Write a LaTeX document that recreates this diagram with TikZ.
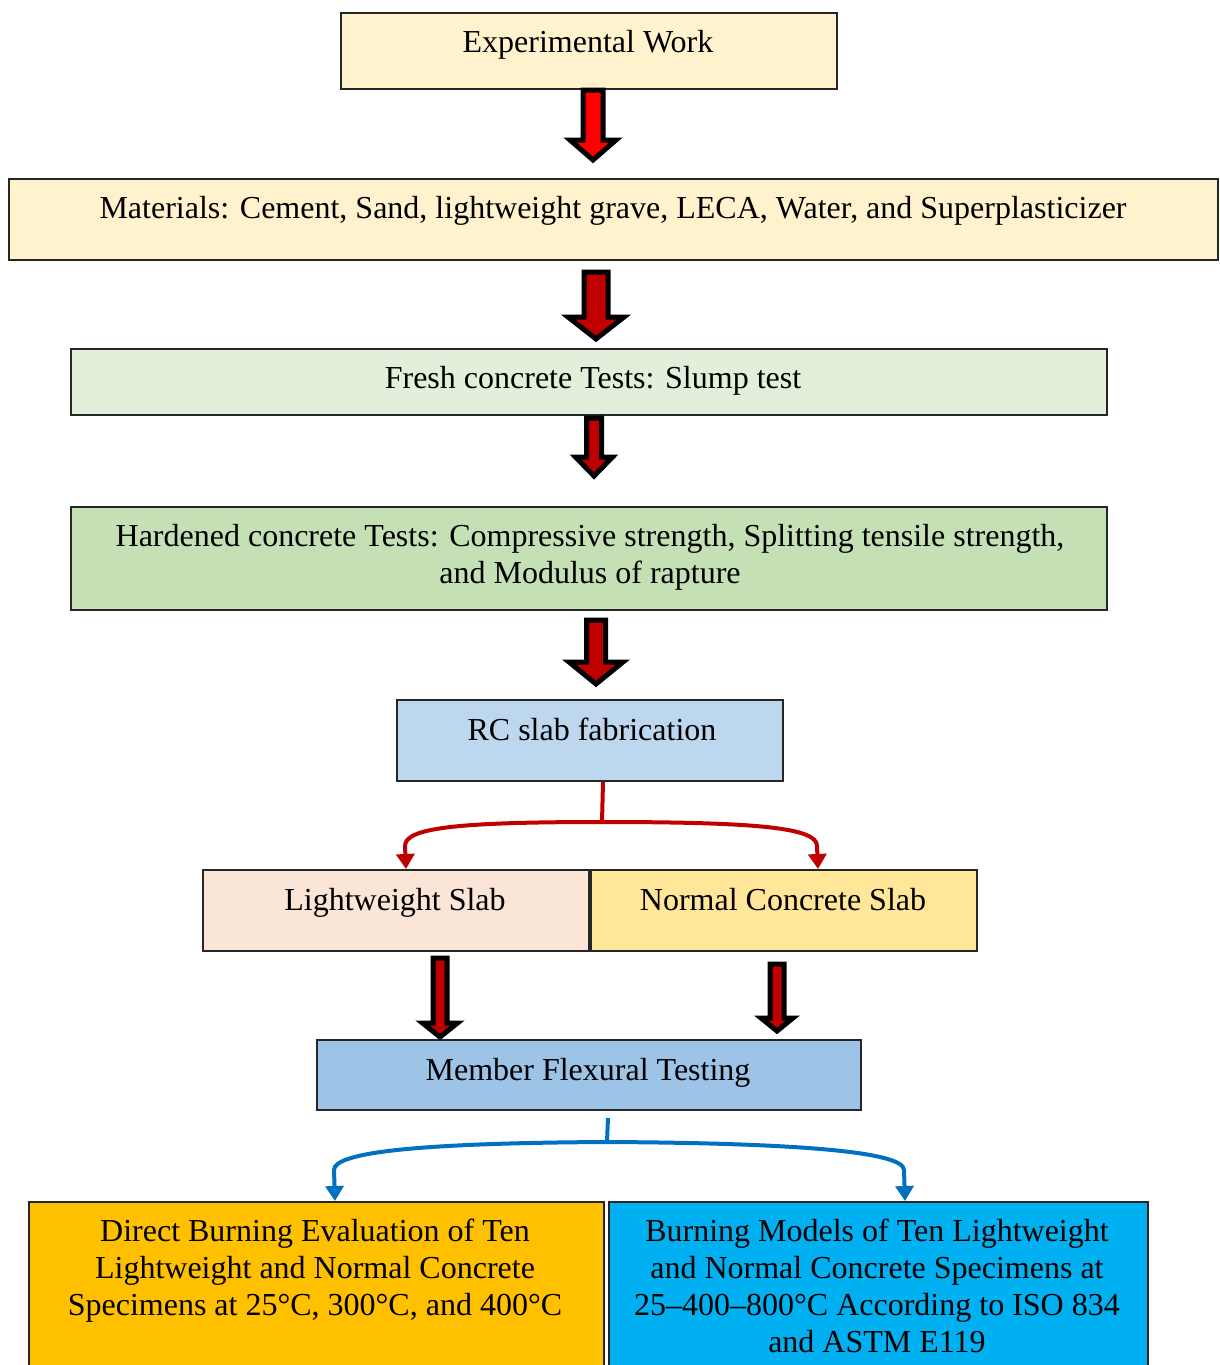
\documentclass[tikz,border=0pt]{standalone}
\usepackage{fontspec}
\setmainfont{Liberation Serif}
\usetikzlibrary{arrows.meta}
\definecolor{cYel}{HTML}{FFF2CC}
\definecolor{cGreenL}{HTML}{E2EFDA}
\definecolor{cGreen}{HTML}{C5E0B4}
\definecolor{cBlueL}{HTML}{BDD7EE}
\definecolor{cPeach}{HTML}{FBE5D6}
\definecolor{cGold}{HTML}{FFE699}
\definecolor{cBlue}{HTML}{9DC3E6}
\definecolor{cOrange}{HTML}{FFC000}
\definecolor{cCyan}{HTML}{00B0F0}
\definecolor{cDark}{HTML}{C00000}
\definecolor{cLink}{HTML}{0070C0}
\newcommand\blockarr[7]{\filldraw[blockarrow, fill=#7] (#1-#4,#2) -- (#1-#4,#5) -- (#1-#6,#5) -- (#1,#3) -- (#1+#6,#5) -- (#1+#4,#5) -- (#1+#4,#2) -- cycle;}
\begin{document}
\begin{tikzpicture}[x=1pt,y=-1pt,
 box/.style={draw=black!85, line width=2pt, inner sep=0pt, anchor=north west},
 txt/.style={inner sep=0pt, align=center, font=\fontsize{32}{37}\selectfont},
 blockarrow/.style={draw=black, line width=5pt, line join=miter, miter limit=10},
 redlink/.style={draw=cDark, line width=4pt},
 bluelink/.style={draw=cLink, line width=4pt},
 tip/.style={-{Triangle[length=15pt,width=18pt]}},
]
\useasboundingbox[fill=white] (0,0) rectangle (1219,1365);

% boxes
\node[box, fill=cYel, minimum width=496pt, minimum height=76pt] (ew) at (340,12) {};
\node[box, fill=cYel, minimum width=1209pt, minimum height=81pt] (mat) at (8,178) {};
\node[box, fill=cGreenL, minimum width=1036pt, minimum height=66pt] (fr) at (70,348) {};
\node[box, fill=cGreen, minimum width=1036pt, minimum height=103pt] (hd) at (70,506) {};
\node[box, fill=cBlueL, minimum width=386pt, minimum height=81pt] (rc) at (396,699) {};
\node[box, fill=cPeach, minimum width=386pt, minimum height=81pt] (lw) at (202,869) {};
\node[box, fill=cGold, minimum width=386pt, minimum height=81pt] (nc) at (590,869) {};
\node[box, fill=cBlue, minimum width=544pt, minimum height=70pt] (mf) at (316,1039) {};
\node[box, fill=cOrange, minimum width=575pt, minimum height=200pt] (db) at (28,1201) {};
\node[box, fill=cCyan, minimum width=539pt, minimum height=200pt] (bm) at (608,1201) {};

% texts
\node[txt] (t1) at (588,44.6) {\strut Experimental Work};
\node[txt] (t2) at (613,210.6) {\strut Materials: Cement, Sand, lightweight grave, LECA, Water, and Superplasticizer};
\node[txt] (t3) at (593,380.6) {\strut Fresh concrete Tests: Slump test};
\node[txt] (t4) at (590,557.1) {\strut Hardened concrete Tests: Compressive strength, Splitting tensile strength,\\\strut and Modulus of rapture};
\node[txt] (t5) at (592,732.6) {\strut RC slab fabrication};
\node[txt] (t6) at (395,902.6) {\strut Lightweight Slab};
\node[txt] (t7) at (783,902.6) {\strut Normal Concrete Slab};
\node[txt] (t8) at (588,1072.6) {\strut Member Flexural Testing};
\node[txt] (t9) at (315,1270.6) {\strut Direct Burning Evaluation of Ten\\\strut Lightweight and Normal Concrete\\\strut Specimens at 25°C, 300°C, and 400°C};
\node[txt] (t10) at (877,1289.1) {\strut Burning Models of Ten Lightweight\\\strut and Normal Concrete Specimens at\\\strut 25–400–800°C According to ISO 834\\\strut and ASTM E119};

% block arrows
\blockarr{593}{90}{160}{10}{140}{23}{red}
\blockarr{596}{272}{339}{12}{317}{28}{cDark}
\blockarr{594}{418}{476}{7.5}{457}{18.5}{cDark}
\blockarr{596}{620}{684}{9.5}{662}{27}{cDark}
\blockarr{440}{958}{1037}{7}{1023}{17.5}{cDark}
\blockarr{777}{964}{1031}{7}{1018}{16}{cDark}

% red split connector
\coordinate (rj) at (602,822);
\draw[redlink] ([xshift=13pt]rc.south) -- (rj);
\draw[redlink,tip] (rj) .. controls (455,822) and (405,828) .. (405,846) -- ([xshift=10pt]lw.north);
\draw[redlink,tip] (rj) .. controls (760,822) and (817,828) .. (817,846) -- ([xshift=34pt]nc.north);

% blue split connector
\coordinate (bj) at (607,1142);
\draw[bluelink] ([xshift=19pt,yshift=-7pt]mf.south) -- (bj);
\draw[bluelink,tip] (bj) .. controls (420,1143) and (334,1152) .. (334,1170) -- ([xshift=18.5pt]db.north);
\draw[bluelink,tip] (bj) .. controls (800,1143) and (904,1152) .. (904,1170) -- ([xshift=26.5pt]bm.north);
\end{tikzpicture}
\end{document}
